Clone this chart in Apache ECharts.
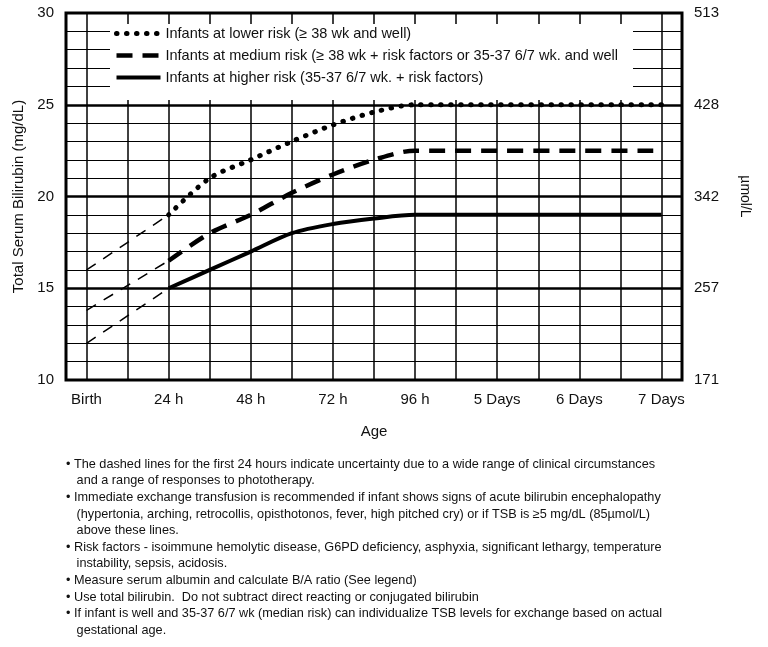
<!DOCTYPE html>
<html><head><meta charset="utf-8">
<script src="https://cdn.jsdelivr.net/npm/echarts@6/dist/echarts.min.js"></script>
<style>html,body{margin:0;padding:0;background:#fff}#c{width:768px;height:647px}</style>
</head><body><div id="c"></div>
<script>
const hours = [24, 36, 48, 60, 72, 84, 96, 168];
const lowerRisk = [19, 21, 22, 23, 23.9, 24.6, 25, 25];
const mediumRisk = [16.5, 18, 19, 20.2, 21.2, 22, 22.5, 22.5];
const higherRisk = [15, 16, 17, 18, 18.5, 18.8, 19, 19];
const earlyHours = [0, 24];
const lowerEarly = [16, 19];
const mediumEarly = [13.8, 16.5];
const higherEarly = [12, 15];
const xTickValues = [0, 24, 48, 72, 96, 120, 144, 168];
const xTickLabels = ['Birth', '24 h', '48 h', '72 h', '96 h', '5 Days', '6 Days', '7 Days'];
const xGridValues = [0, 12, 24, 36, 48, 60, 72, 84, 96, 108, 120, 132, 144, 156, 168];
const yMajor = [15, 20, 25];
const rightLabels = {10: '171', 15: '257', 20: '342', 25: '428', 30: '513'};
const seriesNames = [
  'Infants at lower risk (\u2265 38 wk and well)',
  'Infants at medium risk (\u2265 38 wk + risk factors or 35-37 6/7 wk. and well',
  'Infants at higher risk (35-37 6/7 wk. + risk factors)'
];
const notes = [
  '\u2022 The dashed lines for the first 24 hours indicate uncertainty due to a wide range of clinical circumstances',
  '   and a range of responses to phototherapy.',
  '\u2022 Immediate exchange transfusion is recommended if infant shows signs of acute bilirubin encephalopathy',
  '   (hypertonia, arching, retrocollis, opisthotonos, fever, high pitched cry) or if TSB is \u22655 mg/dL (85\u00b5mol/L)',
  '   above these lines.',
  '\u2022 Risk factors - isoimmune hemolytic disease, G6PD deficiency, asphyxia, significant lethargy, temperature',
  '   instability, sepsis, acidosis.',
  '\u2022 Measure serum albumin and calculate B/A ratio (See legend)',
  '\u2022 Use total bilirubin.  Do not subtract direct reacting or conjugated bilirubin',
  '\u2022 If infant is well and 35-37 6/7 wk (median risk) can individualize TSB levels for exchange based on actual',
  '   gestational age.'
];
const zip = (xs, ys) => xs.map((x, i) => [x, ys[i]]);
const font = 'Liberation Sans, Arial, sans-serif';
const thinDash = {color: '#000', width: 1.5, type: [11, 9]};
const styles = [
  {color: '#000', width: 5, type: [0.5, 9.5], cap: 'round'},
  {color: '#000', width: 4.5, type: [16, 10]},
  {color: '#000', width: 4, type: 'solid'}
];

const chart = echarts.init(document.getElementById('c'));
chart.setOption({
  animation: false,
  grid: {left: 66, right: 86, top: 13, bottom: 267, show: true, borderColor: '#000', borderWidth: 3, z: 5},
  xAxis: {type: 'value', min: -6, max: 174,
    axisLine: {show: false}, axisTick: {show: false}, splitLine: {show: false},
    axisLabel: {customValues: xTickValues, formatter: v => xTickLabels[xTickValues.indexOf(v)] || '',
      color: '#111', fontSize: 15, fontFamily: font, margin: 12},
    name: 'Age', nameLocation: 'middle', nameGap: 44,
    nameTextStyle: {color: '#111', fontSize: 15, fontFamily: font}},
  yAxis: [
    {type: 'value', min: 10, max: 30, interval: 1,
      axisLine: {show: false}, axisTick: {show: false},
      splitLine: {lineStyle: {color: '#000', width: 1.2}},
      axisLabel: {formatter: v => v % 5 === 0 ? String(v) : '', color: '#111', fontSize: 15, fontFamily: font, margin: 12},
      name: 'Total Serum Bilirubin (mg/dL)', nameLocation: 'middle', nameGap: 36,
      nameTextStyle: {color: '#111', fontSize: 15, fontFamily: font}},
    {type: 'value', min: 10, max: 30, interval: 5, position: 'right',
      axisLine: {show: false}, axisTick: {show: false}, splitLine: {show: false},
      axisLabel: {formatter: v => rightLabels[v] || '', color: '#111', fontSize: 15, fontFamily: font, margin: 12},
      name: '\u00b5mol/L', nameLocation: 'middle', nameGap: 56, nameRotate: -90,
      nameTextStyle: {color: '#111', fontSize: 14, fontFamily: font}}
  ],
  legend: {data: seriesNames.map((n, i) => ({name: n, itemStyle: {opacity: 0}, lineStyle: styles[i]})),
    orient: 'vertical', left: 114, top: 26, itemGap: 7, itemWidth: 44, itemHeight: 14,
    padding: 0, z: 20,
    textStyle: {color: '#111', fontSize: 14.5, fontFamily: font}},
  series: [
    {type: 'line', name: 'grid', data: [], silent: true, z: 1,
      markLine: {silent: true, symbol: 'none', label: {show: false}, animation: false,
        data: xGridValues.map(v => ({xAxis: v, lineStyle: {color: '#000', width: 1.5, type: 'solid'}}))
          .concat(yMajor.map(v => ({yAxis: v, lineStyle: {color: '#000', width: 2.5, type: 'solid'}})))}},
    {type: 'line', name: 'e1', data: zip(earlyHours, lowerEarly), symbol: 'none', lineStyle: thinDash, z: 10},
    {type: 'line', name: 'e2', data: zip(earlyHours, mediumEarly), symbol: 'none', lineStyle: thinDash, z: 10},
    {type: 'line', name: 'e3', data: zip(earlyHours, higherEarly), symbol: 'none', lineStyle: thinDash, z: 10},
    {type: 'line', name: seriesNames[0], data: zip(hours, lowerRisk), symbol: 'none', smooth: 0.3, z: 10,
      itemStyle: {color: '#000'}, lineStyle: styles[0]},
    {type: 'line', name: seriesNames[1], data: zip(hours, mediumRisk), symbol: 'none', smooth: 0.3, z: 10,
      itemStyle: {color: '#000'}, lineStyle: styles[1]},
    {type: 'line', name: seriesNames[2], data: zip(hours, higherRisk), symbol: 'none', smooth: 0.3, z: 10,
      itemStyle: {color: '#000'}, lineStyle: styles[2]}
  ],
  graphic: [
    {type: 'rect', left: 110, top: 24, shape: {width: 523, height: 76}, style: {fill: '#fff'}, z: 15},
    {type: 'text', left: 66, top: 456, style: {text: notes.join('\n'), fill: '#111', font: '12.7px ' + font, lineHeight: 16.6}}
  ]
});
</script></body></html>
